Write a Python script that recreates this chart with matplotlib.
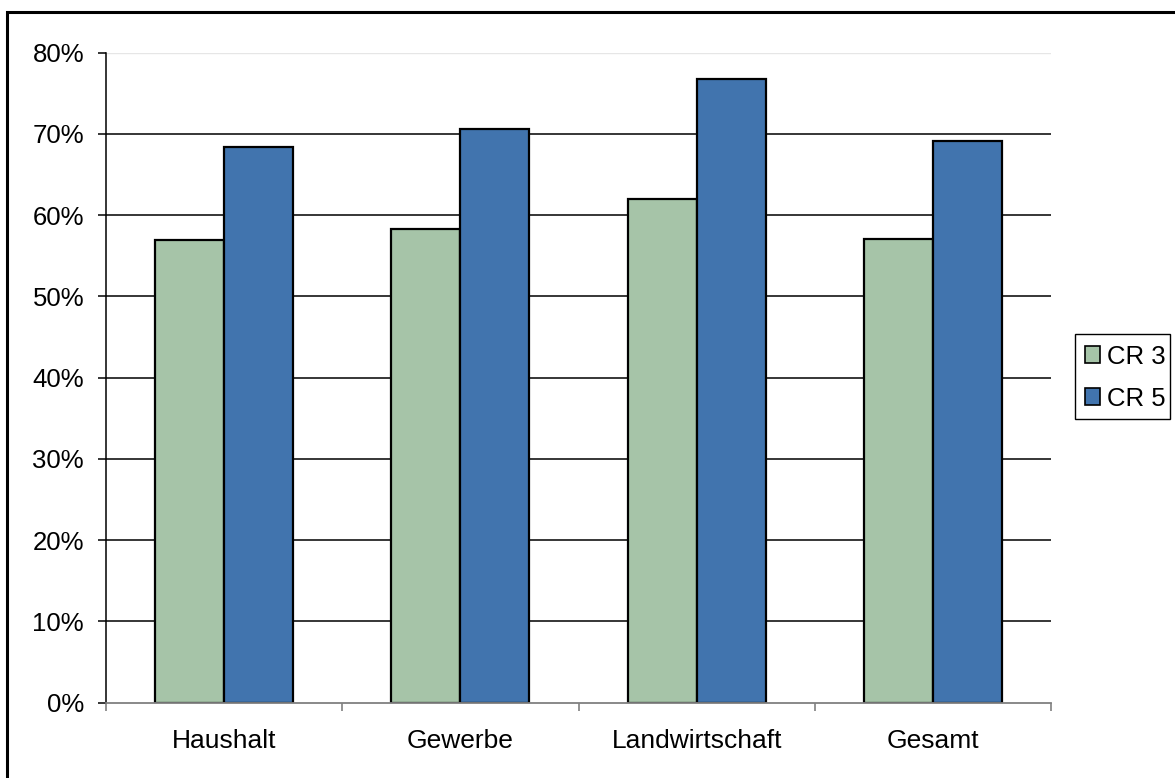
import matplotlib
matplotlib.use("Agg")
import matplotlib.pyplot as plt
from matplotlib.patches import Rectangle, Patch
from matplotlib.ticker import FuncFormatter, MultipleLocator, FixedLocator
import numpy as np

plt.rcParams['font.family'] = ['Liberation Sans', 'DejaVu Sans']

categories = ["Haushalt", "Gewerbe", "Landwirtschaft", "Gesamt"]
series_names = ["CR 3", "CR 5"]
cr3 = [56.9, 58.3, 62.0, 57.1]
cr5 = [68.4, 70.6, 76.8, 69.1]
colors = ["#A6C4A8", "#4174AE"]

W, H = 1175, 778
fig = plt.figure(figsize=(W / 100, H / 100), dpi=100)
ax = fig.add_axes([106 / W, 1 - 702.7 / H, (1051 - 106) / W, (702.7 - 52.7) / H])

x = np.arange(len(categories))
bw = 0.292
ax.bar(x - bw / 2, cr3, width=bw, color=colors[0], edgecolor="black", linewidth=1.6, zorder=3)
ax.bar(x + bw / 2, cr5, width=bw, color=colors[1], edgecolor="black", linewidth=1.6, zorder=3)

ax.set_xlim(-0.5, len(categories) - 0.5)
ax.set_ylim(0, 80)
ax.yaxis.set_major_locator(MultipleLocator(10))
ax.yaxis.set_major_formatter(FuncFormatter(lambda v, p: f"{v:.0f}%"))
for v in range(10, 80, 10):
    ax.axhline(v, color="black", linewidth=1.1, zorder=1)
ax.axhline(80, color="#E6E6E6", linewidth=1.0, zorder=1)

ax.set_xticks(x)
ax.set_xticklabels(categories)
ax.tick_params(axis="x", which="major", length=0, labelsize=19, pad=19)
ax.xaxis.set_minor_locator(FixedLocator(np.arange(-0.5, len(categories), 1.0)))
ax.tick_params(axis="x", which="minor", length=6, width=1.2, color="#808080", direction="out")
ax.tick_params(axis="y", length=5.8, width=1.1, labelsize=18.5, pad=10, direction="out")

for s in ["top", "right"]:
    ax.spines[s].set_visible(False)
ax.spines["left"].set_color("black")
ax.spines["left"].set_linewidth(1.1)
ax.spines["bottom"].set_color("#808080")
ax.spines["bottom"].set_linewidth(1.3)
ax.spines["bottom"].set_zorder(4)

handles = [Patch(facecolor=colors[0], edgecolor="black", linewidth=1.2),
           Patch(facecolor=colors[1], edgecolor="black", linewidth=1.2)]
leg = fig.legend(handles, series_names, loc="upper left",
                 bbox_to_anchor=(1077 / W, 1 - 337 / H),
                 fontsize=18.5, frameon=False,
                 handlelength=0.6, handleheight=0.6, handletextpad=0.25,
                 borderpad=0.3, labelspacing=0.7, borderaxespad=0.0)
# legend box (tight right edge as in the reference)
fig.patches.append(Rectangle((1075 / W, 1 - 419 / H), 95 / W, 85 / H, transform=fig.transFigure,
                             fill=False, edgecolor="black", linewidth=1.0, zorder=10))

fig.patches.append(Rectangle((7 / W, -0.2), 1.2, 1 - 12 / H + 0.2, transform=fig.transFigure,
                             fill=False, edgecolor="black", linewidth=2.2, zorder=10))

fig.savefig("out.png", dpi=100)
